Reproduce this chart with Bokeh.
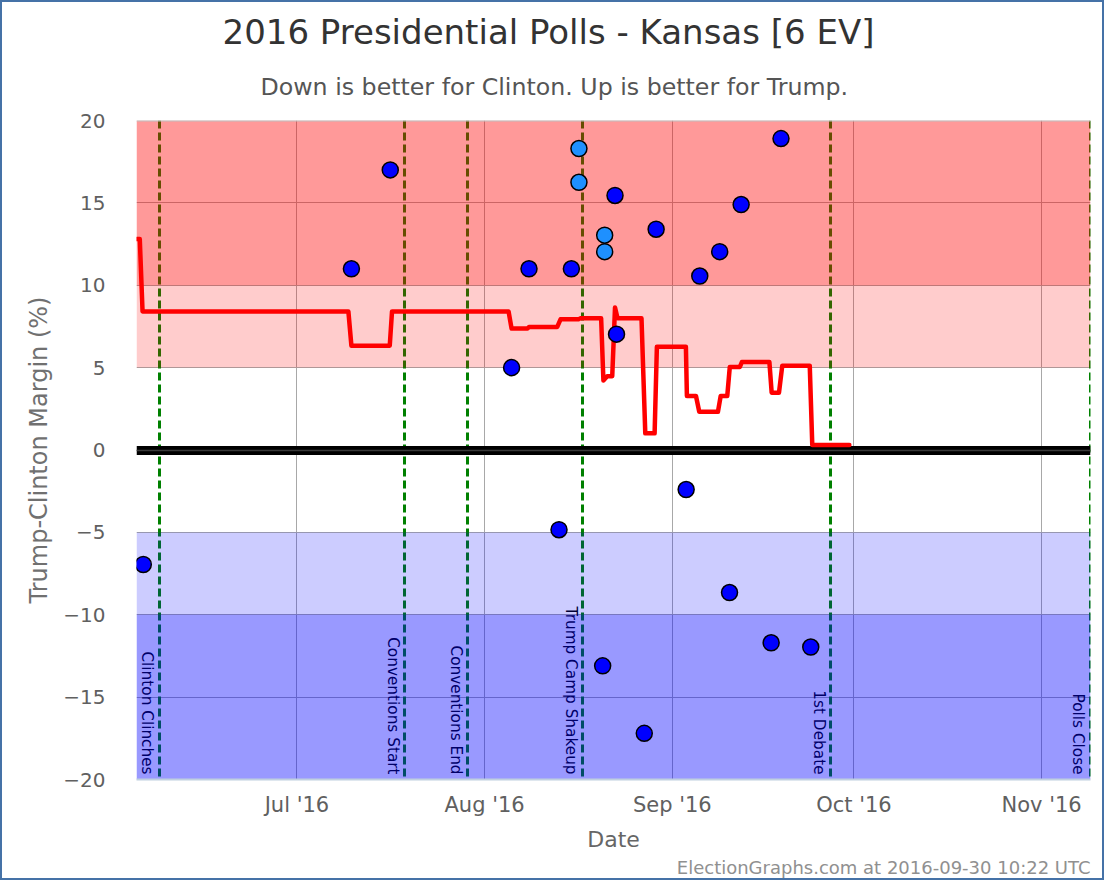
import math
import pandas as pd
from bokeh.plotting import figure
from bokeh.models import Range1d, FixedTicker, DatetimeTickFormatter, Title
from bokeh.core.properties import value
from bokeh.embed import file_html
from bokeh.resources import INLINE

# ---------------- data ----------------
TITLE = "2016 Presidential Polls - Kansas [6 EV]"
SUBTITLE = "Down is better for Clinton. Up is better for Trump."
X_LABEL = "Date"
Y_LABEL = "Trump-Clinton Margin (%)"
FOOTER = "ElectionGraphs.com at 2016-09-30 10:22 UTC"

x_start = "2016-06-04 12:00"
x_end = "2016-11-09 02:00"
y_min, y_max = -20, 20
y_ticks = [-20, -15, -10, -5, 0, 5, 10, 15, 20]
x_tick_dates = ["2016-07-01", "2016-08-01", "2016-09-01", "2016-10-01", "2016-11-01"]

band_lows = [10, 5, -10, -20]
band_highs = [20, 10, -5, -10]
band_colors = ["#ff0000", "#ff0000", "#0000ff", "#0000ff"]
band_alphas = [0.4, 0.2, 0.2, 0.4]

event_names = ["Clinton Clinches", "Conventions Start", "Conventions End",
               "Trump Camp Shakeup", "1st Debate", "Polls Close"]
event_dates = ["2016-06-08 06:00", "2016-07-18 19:00", "2016-07-29 06:00",
               "2016-08-17 06:00", "2016-09-27 04:00", "2016-11-09 01:00"]

poll_dates = ["2016-06-05 15:00", "2016-07-10 00:00", "2016-07-16 10:00",
              "2016-08-05 11:00", "2016-08-08 08:00", "2016-08-13 07:00",
              "2016-08-15 08:00", "2016-08-20 12:00", "2016-08-22 13:00",
              "2016-08-22 19:00", "2016-08-27 09:00", "2016-08-29 08:00",
              "2016-09-03 07:00", "2016-09-05 13:00", "2016-09-08 20:00",
              "2016-09-10 11:00", "2016-09-12 09:00", "2016-09-17 08:00",
              "2016-09-18 23:00", "2016-09-23 21:00"]
poll_margins = [-6.95, 11.0, 17.0, 5.0, 11.0, -4.84, 11.0, -13.1, 15.45,
                7.03, -17.2, 13.4, -2.4, 10.56, 12.04, -8.65, 14.9, -11.7,
                18.9, -11.96]

alt_poll_dates = ["2016-08-16 14:00", "2016-08-16 14:00",
                  "2016-08-20 20:00", "2016-08-20 20:00"]
alt_poll_margins = [18.3, 16.25, 13.04, 12.04]

avg_dates = ["2016-06-04 13:00", "2016-06-05 01:00", "2016-06-05 12:00",
             "2016-07-09 12:00", "2016-07-10 00:00", "2016-07-16 08:00",
             "2016-07-16 17:00", "2016-08-04 23:00", "2016-08-05 11:00",
             "2016-08-08 02:00", "2016-08-08 08:00", "2016-08-13 00:00",
             "2016-08-13 13:00", "2016-08-16 12:00", "2016-08-16 19:00",
             "2016-08-20 06:00", "2016-08-20 15:00", "2016-08-21 06:00",
             "2016-08-22 02:00", "2016-08-22 13:00", "2016-08-22 23:00",
             "2016-08-26 22:00", "2016-08-27 13:00", "2016-08-29 02:00",
             "2016-08-29 11:00", "2016-09-03 06:00", "2016-09-03 10:00",
             "2016-09-04 22:00", "2016-09-05 11:00", "2016-09-08 13:00",
             "2016-09-09 00:00", "2016-09-10 02:00", "2016-09-10 12:00",
             "2016-09-12 04:00", "2016-09-12 12:00", "2016-09-17 01:00",
             "2016-09-17 10:00", "2016-09-18 15:00", "2016-09-19 04:00",
             "2016-09-23 17:00", "2016-09-24 03:00", "2016-09-30 06:00"]
avg_margins = [12.8, 12.8, 8.41, 8.41, 6.33, 6.33, 8.41, 8.41, 7.37, 7.37,
               7.47, 7.47, 7.93, 7.93, 7.99, 7.99, 4.22, 4.48, 4.48, 8.65,
               7.99, 7.99, 1.01, 1.01, 6.27, 6.27, 3.28, 3.28, 2.32, 2.32,
               3.28, 3.28, 5.04, 5.04, 5.34, 5.34, 3.48, 3.48, 5.12, 5.12,
               0.31, 0.31]


def ms(values):
    return [pd.Timestamp(v).value / 1e6 for v in values]


FONT = "DejaVu Sans"

p = figure(width=1104, height=880,
           x_axis_type="datetime",
           x_range=Range1d(ms([x_start])[0], ms([x_end])[0]),
           y_range=Range1d(y_min, y_max),
           output_backend="svg", toolbar_location=None,
           min_border_left=134, min_border_right=16,
           min_border_top=118, min_border_bottom=103,
           background_fill_color="white", border_fill_color="white",
           outline_line_color=None)
p.styles = {"border": "2px solid #4572A7"}

xa = p.xaxis[0]
ya = p.yaxis[0]

# titles
p.add_layout(Title(text=SUBTITLE, text_font=FONT, text_font_size="23.7px",
                   text_color="#555555", text_font_style="normal",
                   align="left", offset=124, standoff=39), "above")
p.add_layout(Title(text=TITLE, text_font=FONT, text_font_size="34px",
                   text_color="#333333", text_font_style="normal",
                   align="left", offset=86, standoff=0), "above")

# x axis
xa.ticker = FixedTicker(ticks=ms(x_tick_dates))
fmt = "%b '%y"
xa.formatter = DatetimeTickFormatter(months=fmt, days=fmt, hours=fmt,
                                     years=fmt, minutes=fmt)
xa.axis_label = X_LABEL
xa.axis_line_color = "#C0D0E0"
xa.axis_line_width = 2
xa.major_tick_line_color = None
xa.minor_tick_line_color = None
xa.major_tick_out = 0
xa.major_label_standoff = 13
xa.major_label_text_font = FONT
xa.major_label_text_font_size = "21px"
xa.major_label_text_color = "#606060"
xa.axis_label_text_font = FONT
xa.axis_label_text_font_size = "22px"
xa.axis_label_text_font_style = "normal"
xa.axis_label_text_color = "#666666"
xa.axis_label_standoff = 7

# y axis
ya.ticker = FixedTicker(ticks=y_ticks)
ya.axis_label = Y_LABEL
ya.axis_line_color = None
ya.major_tick_line_color = None
ya.minor_tick_line_color = None
ya.major_tick_out = 0
ya.major_label_standoff = 31
ya.major_label_text_font = FONT
ya.major_label_text_font_size = "20px"
ya.major_label_text_color = "#606060"
ya.axis_label_text_font = FONT
ya.axis_label_text_font_size = "24px"
ya.axis_label_text_font_style = "normal"
ya.axis_label_text_color = "#707070"
ya.axis_label_standoff = 7

p.add_layout(Title(text=FOOTER, text_font=FONT, text_font_size="18px",
                   text_color="#909090", text_font_style="normal",
                   align="right", offset=0, standoff=0), "below")

p.xgrid.ticker = FixedTicker(ticks=ms(x_tick_dates))
p.ygrid.ticker = FixedTicker(ticks=y_ticks)
for g in (p.xgrid[0], p.ygrid[0]):
    g.grid_line_color = "#a8a8a8"
    g.grid_line_width = 1

# event lines and labels (drawn under translucent bands)
ev_x = ms(event_dates)
p.vspan(x=ev_x, line_color="#008000", line_width=3, line_dash="8 4")
p.text(x=ev_x, y=[y_min + 0.3] * len(ev_x), text=event_names,
       angle=-math.pi / 2, text_align="right", text_baseline="top",
       x_offset=-3, text_font=value(FONT), text_font_size="15.3px",
       text_color="black")

# bands
p.hstrip(y0=band_lows, y1=band_highs, fill_color=band_colors,
         fill_alpha=band_alphas, line_color=None)
p.hspan(y=[y_max], line_color="#c0c0c0", line_width=2)

# zero line
p.hspan(y=[0], line_color="black", line_width=9)
p.hspan(y=[0], line_color="#3a3a3a", line_width=1.5)

# average line
p.line(ms(avg_dates), avg_margins, line_color="#ff0000", line_width=4.5,
       line_join="round", line_cap="round")

# polls
p.scatter(ms(poll_dates), poll_margins, size=16, fill_color="#0000ff",
          line_color="black", line_width=1.5)
p.scatter(ms(alt_poll_dates), alt_poll_margins, size=16, fill_color="#1e90ff",
          line_color="black", line_width=1.5)

open("out.html", "w").write(file_html(p, INLINE))
